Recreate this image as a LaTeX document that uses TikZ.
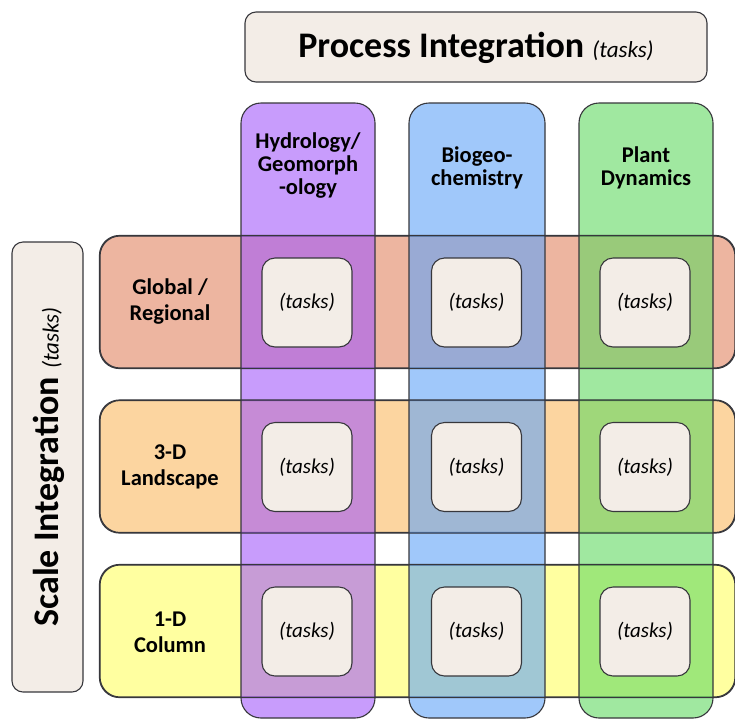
\documentclass[tikz,border=0pt]{standalone}
\usepackage{fontspec}
\setmainfont{Carlito}
\definecolor{beige}{RGB}{243,237,231}
\definecolor{edge}{RGB}{55,55,60}
\definecolor{salmon}{RGB}{237,181,160}
\definecolor{orangerow}{RGB}{252,213,160}
\definecolor{yellowrow}{RGB}{255,255,160}
\definecolor{purplecol}{RGB}{163,90,250}
\definecolor{bluecol}{RGB}{97,163,247}
\definecolor{greencol}{RGB}{97,217,97}
\begin{document}
\begin{tikzpicture}[x=1pt,y=-1pt,
  box/.style={draw=edge,line width=1.1pt,rectangle,inner sep=0pt},
  rowbox/.style={box,rounded corners=20pt,minimum width=635pt,minimum height=132pt},
  colbox/.style={box,rounded corners=20pt,minimum height=615pt,fill opacity=0.6,draw opacity=1},
  taskbox/.style={box,fill=beige,rounded corners=13pt,minimum width=90pt,minimum height=89pt,font=\fontsize{21}{24}\selectfont\itshape},
  lbl/.style={align=center,font=\fontsize{22.5}{23}\selectfont\bfseries,inner sep=0pt},
  rlbl/.style={align=center,font=\fontsize{22.5}{26}\selectfont\bfseries,inner sep=0pt}]
\useasboundingbox (0,0) rectangle (735,721);
% headers
\node[box,fill=beige,rounded corners=11pt,minimum width=462pt,minimum height=70pt] (proc) at (476,47) {};
\node[inner sep=0pt] (proctxt) at (476,48) {\fontsize{36}{38}\selectfont\bfseries Process Integration \fontsize{23}{26}\selectfont\mdseries\itshape(tasks)};
\node[box,fill=beige,rounded corners=11pt,minimum width=71pt,minimum height=450pt] (scale) at (47.5,467) {};
\node[inner sep=0pt,rotate=90] (scaletxt) at (49,467) {\fontsize{36}{38}\selectfont\bfseries Scale Integration \fontsize{23}{26}\selectfont\mdseries\itshape(tasks)};
% rows
\node[rowbox,fill=salmon] (r1) at (417.5,302) {};
\node[rowbox,fill=orangerow] (r2) at (417.5,466.5) {};
\node[rowbox,fill=yellowrow] (r3) at (417.5,631) {};
% columns
\node[colbox,fill=purplecol,minimum width=134pt] (c1) at (308,410.5) {};
\node[colbox,fill=bluecol,minimum width=136pt] (c2) at (477,410.5) {};
\node[colbox,fill=greencol,minimum width=134pt] (c3) at (646,410.5) {};
% redraw row outlines
\foreach \r in {r1,r2,r3} \draw[draw=edge,line width=1.1pt,rounded corners=20pt] (\r.north west) rectangle (\r.south east);
% column labels
\node[lbl] (l1) at (308,166) {Hydrology/\\Geomorph\\-ology};
\node[lbl] (l2) at (477,168) {Biogeo-\\chemistry};
\node[lbl] (l3) at (646,168) {Plant\\Dynamics};
% row labels
\node[rlbl] (g1) at (170,302) {Global /\\Regional};
\node[rlbl] (g2) at (170,467) {3-D\\Landscape};
\node[rlbl] (g3) at (170,632) {1-D\\Column};
% tasks
\node[taskbox] (t11) at (307,302.5) {(tasks)};
\node[taskbox] (t12) at (476.5,302.5) {(tasks)};
\node[taskbox] (t13) at (645,302.5) {(tasks)};
\node[taskbox] (t21) at (307,467) {(tasks)};
\node[taskbox] (t22) at (476.5,467) {(tasks)};
\node[taskbox] (t23) at (645,467) {(tasks)};
\node[taskbox] (t31) at (307,631.5) {(tasks)};
\node[taskbox] (t32) at (476.5,631.5) {(tasks)};
\node[taskbox] (t33) at (645,631.5) {(tasks)};
\end{tikzpicture}
\end{document}
